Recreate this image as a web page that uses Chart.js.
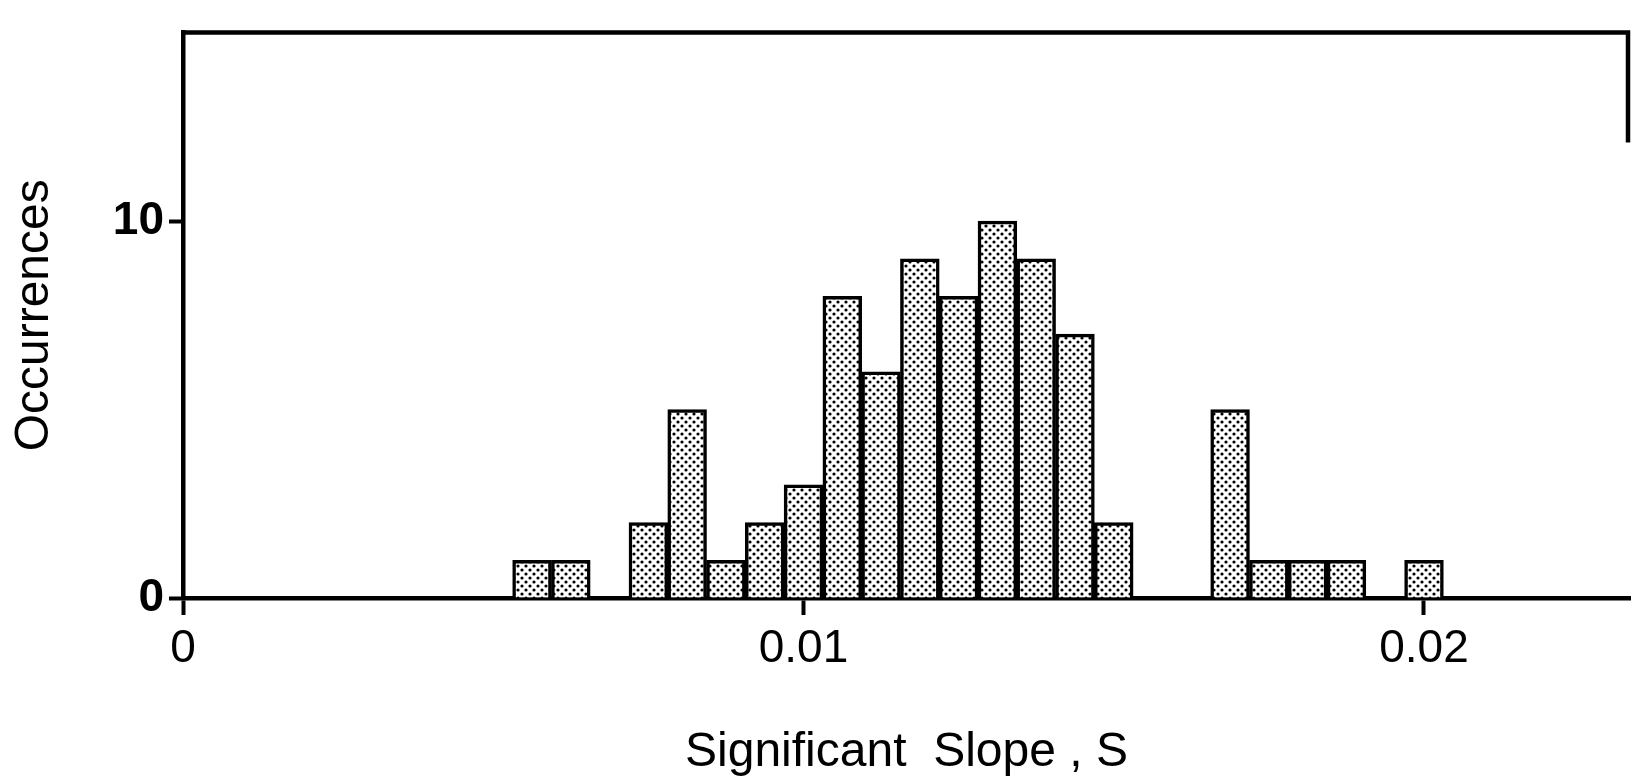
<!DOCTYPE html>
<html>
<head>
<meta charset="utf-8">
<title>Significant Slope histogram</title>
<script src="https://cdn.jsdelivr.net/npm/chart.js@4.4.1/dist/chart.umd.min.js"></script>
<style>
  html, body { margin: 0; padding: 0; background: #fff; }
  #wrap { width: 1632px; height: 779px; }
</style>
</head>
<body>
<div id="wrap"><canvas id="hist"></canvas></div>
<script>
// bin centres (slope S) and counts
const binCenters = [0.005625, 0.00625, 0.0075, 0.008125, 0.00875, 0.009375, 0.01,
  0.010625, 0.01125, 0.011875, 0.0125, 0.013125, 0.01375, 0.014375, 0.015,
  0.016875, 0.0175, 0.018125, 0.01875, 0.02];
const counts = [1, 1, 2, 5, 1, 2, 3, 8, 6, 9, 8, 10, 9, 7, 2, 5, 1, 1, 1, 1];

const xTicks = [0, 0.01, 0.02];
const xTickLabels = ['0', '0.01', '0.02'];
const yTicks = [0, 10];
const yTickLabels = ['0', '10'];

// dotted fill like the printed screen
function dotPattern() {
  const c = document.createElement('canvas');
  c.width = 8; c.height = 8;
  const g = c.getContext('2d');
  g.fillStyle = '#fff';
  g.fillRect(0, 0, 8, 8);
  g.fillStyle = '#000';
  [[2, 2], [6, 6]].forEach(([x, y]) => {
    g.beginPath();
    g.arc(x, y, 1.6, 0, Math.PI * 2);
    g.fill();
  });
  return g.createPattern(c, 'repeat');
}

// top edge of the frame plus the short bit on the right
const framePlugin = {
  id: 'frame',
  afterDraw(chart) {
    const { ctx, chartArea } = chart;
    ctx.save();
    ctx.strokeStyle = '#000';
    ctx.lineWidth = 4.5;
    ctx.beginPath();
    ctx.moveTo(chartArea.left - 2, chartArea.top);
    ctx.lineTo(chartArea.right - 2, chartArea.top);
    ctx.lineTo(chartArea.right - 2, chartArea.top + 110);
    ctx.stroke();
    ctx.restore();
  }
};

const ctx = document.getElementById('hist').getContext('2d');

new Chart(ctx, {
  type: 'bar',
  data: {
    datasets: [{
      label: 'Occurrences',
      data: binCenters.map((x, i) => ({ x: x, y: counts[i] })),
      backgroundColor: dotPattern(),
      borderColor: '#000',
      borderWidth: 3.5,
      barPercentage: 1,
      categoryPercentage: 1
    }]
  },
  options: {
    responsive: true,
    maintainAspectRatio: false,
    animation: false,
    layout: { padding: { top: 26, right: 2, left: 0, bottom: 0 } },
    plugins: {
      legend: { display: false },
      tooltip: { enabled: false }
    },
    scales: {
      x: {
        type: 'linear',
        min: 0,
        max: 0.02332,
        offset: false,
        afterBuildTicks: scale => { scale.ticks = xTicks.map(v => ({ value: v })); },
        afterFit: scale => { scale.height = 181; },
        ticks: {
          color: '#000',
          padding: 7,
          maxRotation: 0,
          font: { family: "'Liberation Sans', Arial, sans-serif", size: 46 },
          callback: (v, i) => xTickLabels[i]
        },
        grid: { offset: false, drawOnChartArea: false, drawTicks: true, tickLength: 17, tickWidth: 4, tickColor: '#000' },
        border: { display: true, color: '#000', width: 4.5 },
        title: {
          display: true,
          text: 'Significant  Slope , S',
          color: '#000',
          padding: { top: 0, bottom: 2 },
          font: { family: "'Liberation Sans', Arial, sans-serif", size: 48, lineHeight: 1 }
        }
      },
      y: {
        min: 0,
        max: 15,
        afterBuildTicks: scale => { scale.ticks = yTicks.map(v => ({ value: v })); },
        afterFit: scale => { scale.width = 183; },
        ticks: {
          color: '#000',
          padding: 5,
          font: { family: "'Liberation Sans', Arial, sans-serif", size: 46, weight: 'bold' },
          callback: (v, i) => yTickLabels[i]
        },
        grid: { drawOnChartArea: false, drawTicks: true, tickLength: 14, tickWidth: 4, tickColor: '#000' },
        border: { display: true, color: '#000', width: 4.5 },
        title: {
          display: true,
          text: 'Occurrences',
          color: '#000',
          padding: { top: 6, bottom: 0 },
          font: { family: "'Liberation Sans', Arial, sans-serif", size: 48 }
        }
      }
    }
  },
  plugins: [framePlugin]
});
</script>
</body>
</html>
